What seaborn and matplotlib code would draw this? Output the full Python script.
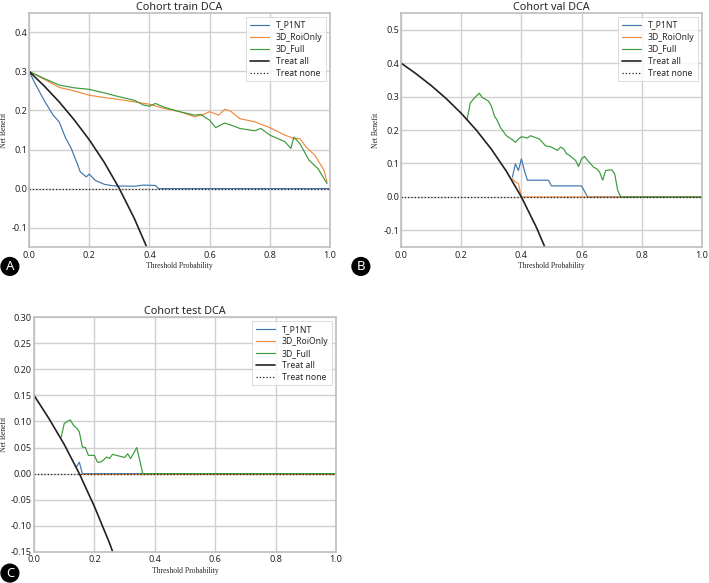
import matplotlib
matplotlib.use("Agg")
import matplotlib.pyplot as plt
import numpy as np
import pandas as pd
import seaborn as sns

# ---- Cohort train ----
train_tp1nt_x = [0.0, 0.02, 0.05, 0.08, 0.10, 0.12, 0.14, 0.16, 0.17, 0.19, 0.20, 0.22, 0.25,
                 0.28, 0.35, 0.38, 0.42, 0.43, 0.60, 0.80, 1.0]
train_tp1nt_y = [0.300, 0.269, 0.226, 0.188, 0.171, 0.132, 0.103, 0.064, 0.043, 0.030, 0.037,
                 0.021, 0.011, 0.007, 0.006, 0.009, 0.008, 0.0, 0.0, 0.0, 0.0]
train_roi_x = [0.0, 0.05, 0.10, 0.15, 0.20, 0.25, 0.30, 0.35, 0.40, 0.45, 0.50, 0.55, 0.58, 0.60,
               0.63, 0.65, 0.67, 0.70, 0.75, 0.80, 0.85, 0.88, 0.90, 0.92, 0.95, 0.98, 0.99]
train_roi_y = [0.300, 0.280, 0.259, 0.250, 0.239, 0.233, 0.228, 0.222, 0.216, 0.205, 0.197,
               0.184, 0.190, 0.197, 0.188, 0.203, 0.198, 0.179, 0.171, 0.156, 0.137, 0.128,
               0.128, 0.107, 0.085, 0.047, 0.017]
train_full_x = [0.0, 0.05, 0.10, 0.15, 0.20, 0.25, 0.30, 0.35, 0.38, 0.40, 0.42, 0.45, 0.50,
                0.55, 0.57, 0.60, 0.62, 0.65, 0.68, 0.70, 0.75, 0.77, 0.80, 0.85, 0.87, 0.88,
                0.90, 0.93, 0.96, 0.99]
train_full_y = [0.300, 0.282, 0.265, 0.258, 0.254, 0.245, 0.235, 0.226, 0.214, 0.211, 0.218,
                0.208, 0.197, 0.188, 0.190, 0.175, 0.156, 0.168, 0.160, 0.154, 0.148, 0.154,
                0.137, 0.120, 0.103, 0.132, 0.115, 0.073, 0.051, 0.013]
train_all_x = [0.0, 0.05, 0.10, 0.15, 0.20, 0.25, 0.30, 0.35, 0.39]
train_all_y = [0.300, 0.263, 0.222, 0.176, 0.125, 0.067, 0.0, -0.077, -0.148]

# ---- Cohort val ----
val_tp1nt_x = [0.37, 0.38, 0.39, 0.40, 0.41, 0.42, 0.49, 0.50, 0.60, 0.62, 0.80, 1.0]
val_tp1nt_y = [0.059, 0.099, 0.079, 0.114, 0.079, 0.050, 0.050, 0.033, 0.033, 0.0, 0.0, 0.0]
val_roi_x = [0.37, 0.38, 0.39, 0.40, 0.60, 0.80, 1.0]
val_roi_y = [0.054, 0.045, 0.040, 0.0, 0.0, 0.0, 0.0]
val_full_x = [0.22, 0.23, 0.24, 0.26, 0.27, 0.29, 0.30, 0.31, 0.32, 0.33, 0.35, 0.37, 0.38,
              0.39, 0.40, 0.42, 0.43, 0.46, 0.47, 0.48, 0.50, 0.52, 0.53, 0.54, 0.55, 0.56,
              0.58, 0.59, 0.60, 0.61, 0.62, 0.64, 0.65, 0.66, 0.67, 0.68, 0.70, 0.71, 0.72,
              0.73, 0.85, 1.0]
val_full_y = [0.233, 0.280, 0.292, 0.310, 0.297, 0.287, 0.272, 0.243, 0.228, 0.208, 0.183,
              0.171, 0.163, 0.173, 0.180, 0.176, 0.183, 0.173, 0.163, 0.153, 0.149, 0.139,
              0.149, 0.144, 0.129, 0.124, 0.109, 0.091, 0.114, 0.121, 0.109, 0.089, 0.084,
              0.074, 0.050, 0.079, 0.081, 0.069, 0.020, 0.0, 0.0, 0.0]
val_all_x = [0.0, 0.05, 0.10, 0.15, 0.20, 0.25, 0.30, 0.35, 0.40, 0.45, 0.48]
val_all_y = [0.400, 0.368, 0.333, 0.294, 0.250, 0.200, 0.143, 0.077, 0.0, -0.091, -0.154]

# ---- Cohort test ----
test_tp1nt_x = [0.14, 0.15, 0.16, 0.40, 0.70, 1.0]
test_tp1nt_y = [0.013, 0.022, 0.0, 0.0, 0.0, 0.0]
test_roi_x = [0.15, 0.40, 0.70, 1.0]
test_roi_y = [0.0, 0.0, 0.0, 0.0]
test_full_x = [0.09, 0.10, 0.11, 0.12, 0.13, 0.14, 0.15, 0.16, 0.17, 0.18, 0.20, 0.21, 0.22,
               0.23, 0.24, 0.25, 0.26, 0.28, 0.30, 0.31, 0.32, 0.34, 0.35, 0.36, 0.60, 1.0]
test_full_y = [0.070, 0.096, 0.100, 0.103, 0.093, 0.088, 0.080, 0.051, 0.050, 0.035, 0.035,
               0.022, 0.022, 0.026, 0.032, 0.029, 0.037, 0.034, 0.031, 0.038, 0.029, 0.050,
               0.026, 0.0, 0.0, 0.0]
test_all_x = [0.0, 0.05, 0.10, 0.15, 0.20, 0.25, 0.26]
test_all_y = [0.150, 0.105, 0.056, 0.0, -0.063, -0.133, -0.149]

none_x = [0.0, 1.0]
none_y = [0.0, 0.0]

cohorts = [
    ("Cohort train DCA", [(train_tp1nt_x, train_tp1nt_y), (train_roi_x, train_roi_y),
                          (train_full_x, train_full_y)], (train_all_x, train_all_y),
     (-0.15, 0.45), np.arange(-0.1, 0.41, 0.1), "{:.1f}"),
    ("Cohort val DCA", [(val_tp1nt_x, val_tp1nt_y), (val_roi_x, val_roi_y),
                        (val_full_x, val_full_y)], (val_all_x, val_all_y),
     (-0.15, 0.55), np.arange(-0.1, 0.51, 0.1), "{:.1f}"),
    ("Cohort test DCA", [(test_tp1nt_x, test_tp1nt_y), (test_roi_x, test_roi_y),
                         (test_full_x, test_full_y)], (test_all_x, test_all_y),
     (-0.15, 0.30), np.arange(-0.15, 0.301, 0.05), "{:.2f}"),
]
model_names = ["T_P1NT", "3D_RoiOnly", "3D_Full"]
model_colors = ["#3f76ad", "#f08a3c", "#3a9a3a"]

sns.set_theme(style="whitegrid")
plt.rcParams["font.family"] = ["Noto Sans", "DejaVu Sans"]
plt.rcParams["axes.unicode_minus"] = False
plt.rcParams["grid.color"] = "#d0d0d0"
plt.rcParams["axes.edgecolor"] = "#c0c0c0"

fig = plt.figure(figsize=(7.09, 5.83), dpi=100)
positions = [[0.041, 0.576, 0.4245, 0.402],
             [0.5656, 0.576, 0.4245, 0.402],
             [0.048, 0.0532, 0.426, 0.403]]
letters = ["A", "B", "C"]
letter_pos = [(0.014, 0.543), (0.509, 0.543), (0.014, 0.017)]

for (title, models, treat_all, ylim, yticks, fmt), pos, letter, lp in zip(
        cohorts, positions, letters, letter_pos):
    ax = fig.add_axes(pos)
    for (xs, ys), name, color in zip(models, model_names, model_colors):
        sns.lineplot(x=xs, y=ys, ax=ax, color=color, linewidth=0.85, label=name)
    sns.lineplot(x=treat_all[0], y=treat_all[1], ax=ax, color="#222222",
                 linewidth=1.2, label="Treat all")
    sns.lineplot(x=none_x, y=none_y, ax=ax, color="#222222", linewidth=0.9,
                 linestyle=":", label="Treat none")
    ax.set_xlim(0, 1)
    ax.set_ylim(*ylim)
    ax.set_xticks(np.arange(0, 1.01, 0.2))
    ax.set_xticklabels([f"{v:.1f}" for v in np.arange(0, 1.01, 0.2)])
    ax.set_yticks(yticks)
    ax.set_yticklabels([fmt.format(v) for v in yticks])
    ax.tick_params(axis="y", labelsize=6.5, pad=1.5, length=0)
    ax.tick_params(axis="x", labelsize=6.5, pad=2.5, length=0)
    ax.set_title(title, fontsize=7.8, pad=2)
    ax.set_xlabel("Threshold Probability", family="Liberation Serif", fontsize=5.5,
                  labelpad=1.5)
    ax.set_ylabel("Net Benefit", family="Liberation Serif", fontsize=5.5, labelpad=2)
    leg = ax.legend(loc="upper right", fontsize=6.2, frameon=True, handlelength=2.2,
                    labelspacing=0.35, borderpad=0.4, fancybox=False)
    leg.get_frame().set_edgecolor("#cccccc")
    leg.get_frame().set_linewidth(0.6)
    fig.text(lp[0], lp[1], letter, color="white", fontsize=9.5, fontweight="bold",
             ha="center", va="center",
             bbox=dict(boxstyle="circle,pad=0.18", fc="black", ec="black", lw=1.0))

fig.savefig("out.png", dpi=100)
